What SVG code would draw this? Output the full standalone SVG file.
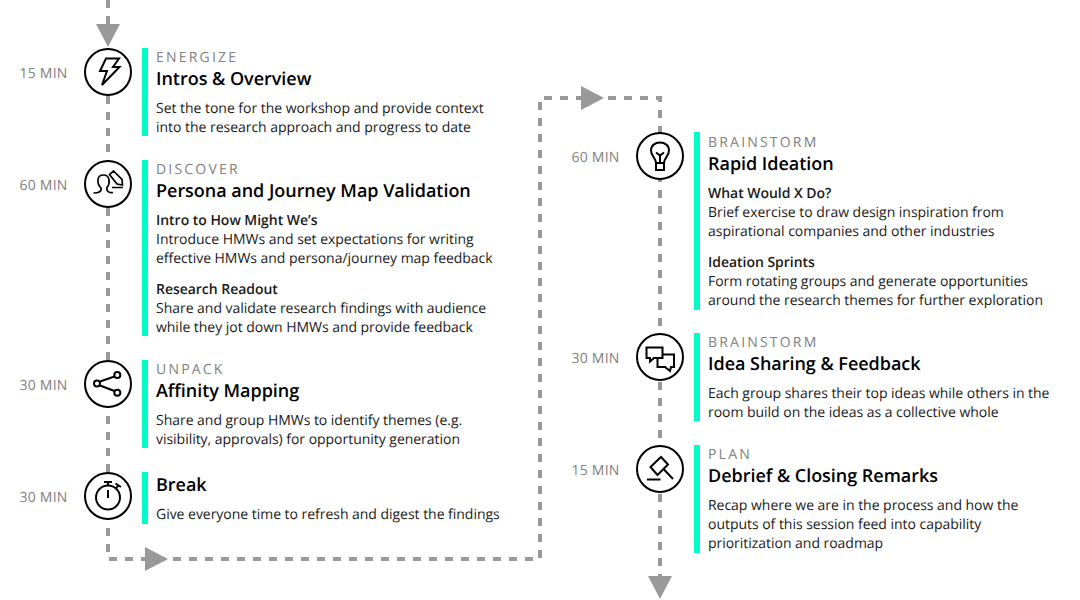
<svg xmlns="http://www.w3.org/2000/svg" width="1080" height="600" viewBox="0 0 1080 600">
<style>
text{font-family:"Open Sans","Noto Sans",sans-serif;text-rendering:geometricPrecision}
.t{font-size:14px;fill:#1a1a1a;letter-spacing:-.03px}
.b{font-weight:600}
.h{font-size:18px;font-weight:600;fill:#000;letter-spacing:-.03px}
.k{font-size:14px;letter-spacing:2.2px;fill:#808080}
.m{font-size:14px;fill:#808080;text-anchor:end;letter-spacing:.2px}
.bar{fill:#00fcc9}
.c{fill:#fff;stroke:#000;stroke-width:2}
.i{fill:none;stroke:#000;stroke-width:2;stroke-linejoin:miter}
.d{fill:none;stroke:#999;stroke-width:4;stroke-dasharray:8 8}
.a{fill:#999}
</style>
<rect width="1080" height="600" fill="#fff"/>
<g id="connectors">
<path class="d" d="M108 0V559H540V98H660V590"/>
<polygon class="a" points="96,24 120,24 108,47"/>
<polygon class="a" points="145,547 145,571 168,559"/>
<polygon class="a" points="581,86 581,110 604,98"/>
<polygon class="a" points="648,576 672,576 660,599"/>
</g>
<g id="n1">
<circle class="c" cx="108" cy="72" r="23"/>
<path class="i" d="M106 58.500H119L113 67H119.500L102 85L107 71H100Z"/>
<text class="m" x="67.500" y="78">15 MIN</text>
<rect class="bar" x="142" y="48" width="6" height="88"/>
<text class="k" x="156" y="62">ENERGIZE</text>
<text class="h" x="156" y="85">Intros &amp; Overview</text>
<text class="t" x="156" y="113">Set the tone for the workshop and provide context</text>
<text class="t" x="156" y="132">into the research approach and progress to date</text>
</g>
<g id="n2">
<circle class="c" cx="108" cy="184" r="23"/>
<path class="i" style="stroke-width:1.700" d="M93.500 193C98 193 102 192 101 188C97 184 96 175 103.500 175C110 175 110.500 183 107 187.500C106 192 110 193 113 192.500M113.500 171L122 179.500L122.500 185L117 184L109.500 174.500ZM112 187.500H123"/>
<text class="m" x="67.500" y="190">60 MIN</text>
<rect class="bar" x="142" y="160" width="6" height="176"/>
<text class="k" x="156" y="174">DISCOVER</text>
<text class="h" x="156" y="197">Persona and Journey Map Validation</text>
<text class="t b" x="156" y="225">Intro to How Might We’s</text>
<text class="t" x="156" y="244">Introduce HMWs and set expectations for writing</text>
<text class="t" x="156" y="263">effective HMWs and persona/journey map feedback</text>
<text class="t b" x="156" y="294">Research Readout</text>
<text class="t" x="156" y="313">Share and validate research findings with audience</text>
<text class="t" x="156" y="332">while they jot down HMWs and provide feedback</text>
</g>
<g id="n3">
<circle class="c" cx="108" cy="384" r="23"/>
<path class="i" d="M100 381.500L114.500 376.500M100 385.500L114.500 391"/>
<circle class="i" cx="97" cy="383.500" r="3"/><circle class="i" cx="117.300" cy="375" r="3"/><circle class="i" cx="117.300" cy="392.700" r="3"/>
<text class="m" x="67.500" y="390">30 MIN</text>
<rect class="bar" x="142" y="360" width="6" height="88"/>
<text class="k" x="156" y="374">UNPACK</text>
<text class="h" x="156" y="397">Affinity Mapping</text>
<text class="t" x="156" y="425">Share and group HMWs to identify themes (e.g.</text>
<text class="t" x="156" y="444">visibility, approvals) for opportunity generation</text>
</g>
<g id="n4">
<circle class="c" cx="108" cy="496" r="23"/>
<circle class="i" cx="108" cy="497.500" r="12"/>
<path class="i" d="M104 482H112M108 482V485.500M108 490V498M116 488L119 485M115.500 483.500L121 487"/>
<text class="m" x="67.500" y="502">30 MIN</text>
<rect class="bar" x="142" y="472" width="6" height="52"/>
<text class="h" x="156" y="491">Break</text>
<text class="t" x="156" y="519">Give everyone time to refresh and digest the findings</text>
</g>
<g id="n5">
<circle class="c" cx="660" cy="156" r="23"/>
<path class="i" d="M656 163C656 158 651 156 651 150.500C651 145.500 655 142.500 660 142.500C665 142.500 669 145.500 669 150.500C669 156 664 158 664 163ZM656 163V170H664V163M660 163V155M656 152.500L660 155.500L664 152.500"/>
<text class="m" x="619.500" y="162">60 MIN</text>
<rect class="bar" x="694" y="132" width="6" height="178"/>
<text class="k" x="708" y="147">BRAINSTORM</text>
<text class="h" x="708" y="170">Rapid Ideation</text>
<text class="t b" x="708" y="198">What Would X Do?</text>
<text class="t" x="708" y="217">Brief exercise to draw design inspiration from</text>
<text class="t" x="708" y="236">aspirational companies and other industries</text>
<text class="t b" x="708" y="267">Ideation Sprints</text>
<text class="t" x="708" y="286">Form rotating groups and generate opportunities</text>
<text class="t" x="708" y="305">around the research themes for further exploration</text>
</g>
<g id="n6">
<circle class="c" cx="660" cy="357" r="23"/>
<path class="i" d="M646.500 347.500H662.500V358H654L650 361.500V358H646.500ZM663 354.500H674V367H671L670 371L665 367H657.500V358"/>
<text class="m" x="619.500" y="363">30 MIN</text>
<rect class="bar" x="694" y="333" width="6" height="88"/>
<text class="k" x="708" y="347">BRAINSTORM</text>
<text class="h" x="708" y="370">Idea Sharing &amp; Feedback</text>
<text class="t" x="708" y="398">Each group shares their top ideas while others in the</text>
<text class="t" x="708" y="417">room build on the ideas as a collective whole</text>
</g>
<g id="n7">
<circle class="c" cx="660" cy="469" r="23"/>
<path class="i" d="M650.500 467L661 457L668 464.500L657.500 475ZM664 469.500L673 479M647 479.500H660.500"/>
<text class="m" x="619.500" y="475">15 MIN</text>
<rect class="bar" x="694" y="445" width="6" height="108"/>
<text class="k" x="708" y="459">PLAN</text>
<text class="h" x="708" y="482">Debrief &amp; Closing Remarks</text>
<text class="t" x="708" y="510">Recap where we are in the process and how the</text>
<text class="t" x="708" y="529">outputs of this session feed into capability</text>
<text class="t" x="708" y="548">prioritization and roadmap</text>
</g>
</svg>
